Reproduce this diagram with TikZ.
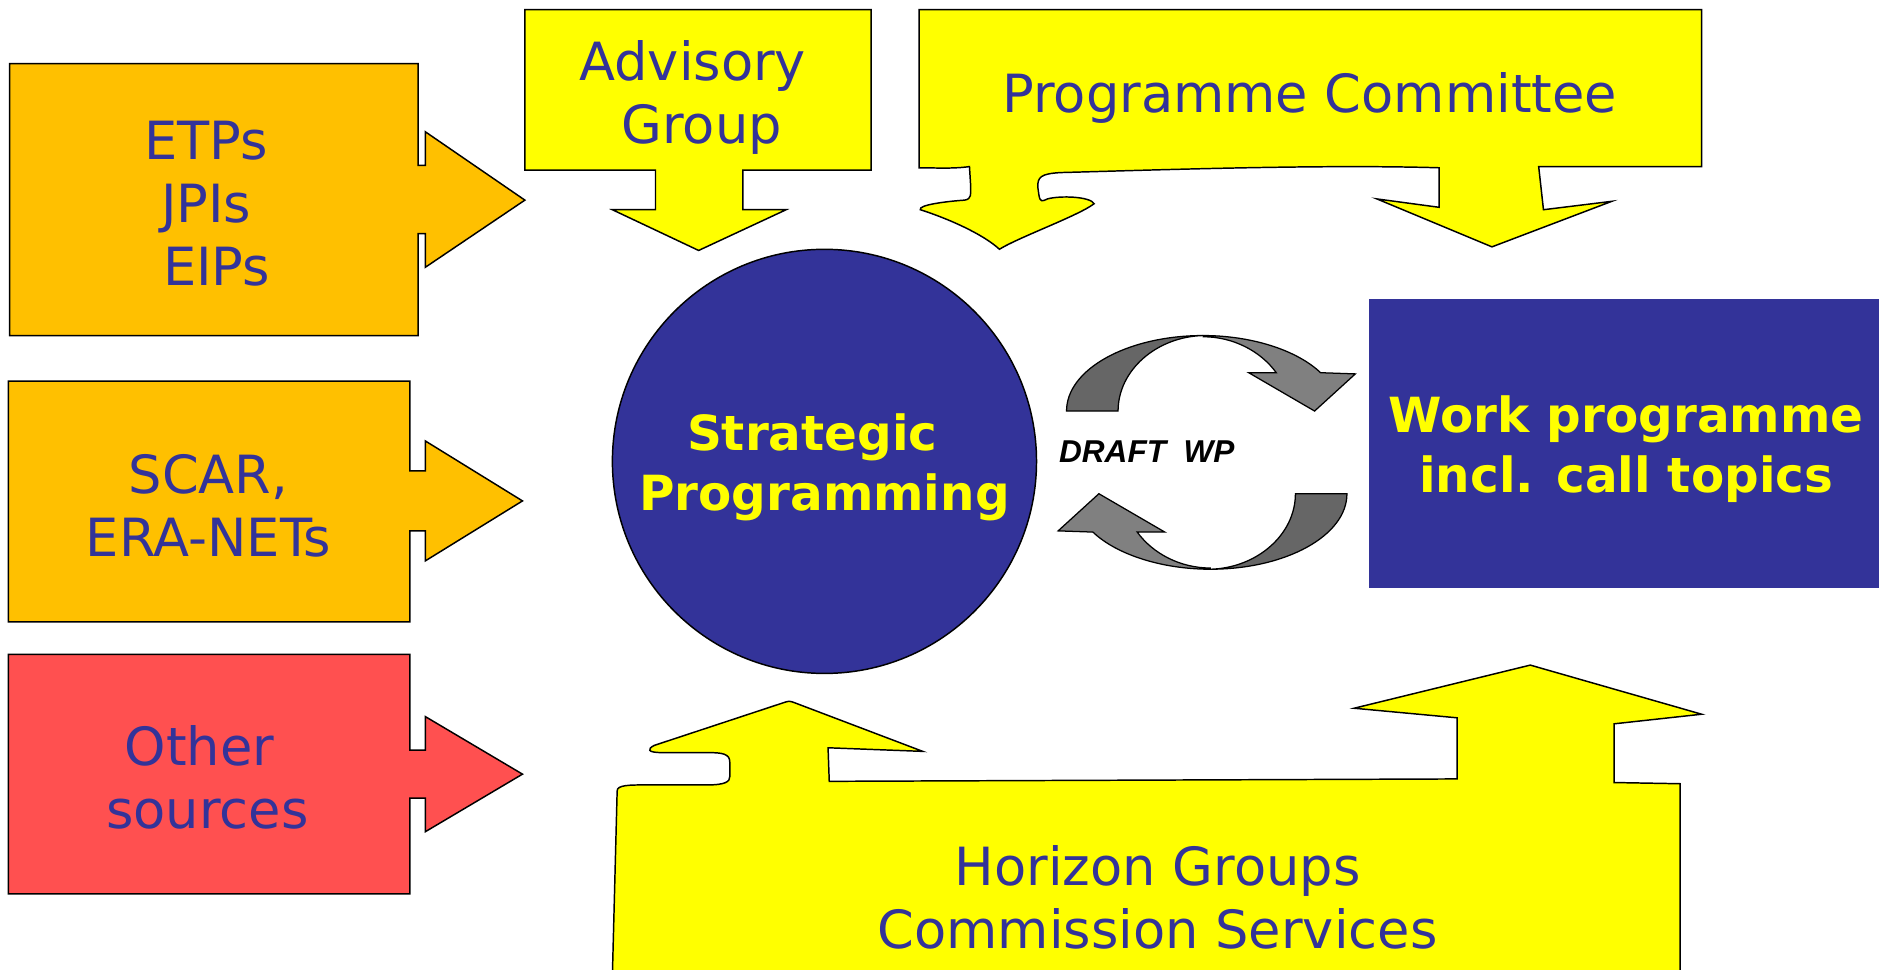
\documentclass[tikz,border=0pt]{standalone}
\usepackage{fontspec}
\setmainfont{DejaVu Sans}
\newfontfamily\draftfont{Liberation Sans}
\usetikzlibrary{calc}
\definecolor{navy}{HTML}{333399}
\definecolor{amber}{HTML}{FFC000}
\definecolor{salmon}{HTML}{FF5050}
\definecolor{lemon}{HTML}{FFFF00}
\definecolor{darkgrey}{HTML}{666666}
\definecolor{midgrey}{HTML}{808080}

\begin{document}
\begin{tikzpicture}[
    x=0.02cm, y=-0.02cm,
    outline/.style = { draw,line width=0.7pt },
    txt/.style     = { text=navy,align=center,font=\fontsize{25}{30}\selectfont },
    boldtxt/.style = { text=lemon,align=center,font=\fontsize{23}{28.5}\selectfont\bfseries },
    swirl/.style   = { draw,line width=0.6pt }
    ]
    \useasboundingbox (0,0) rectangle (1568,809);
    % Definitions
    \coordinate (etp)  at ( 172,170);
    \coordinate (scar) at ( 174,422);
    \coordinate (oth)  at ( 173,649);
    \coordinate (adv)  at ( 578, 81);
    \coordinate (com)  at (1093, 82);
    \coordinate (str)  at ( 688,385);
    \coordinate (work) at (1357,370);
    \coordinate (dft)  at ( 957,377);
    \coordinate (hor)  at ( 966,749);
    % Shapes
    \draw[outline,fill=amber]  (8,53) -- (349,53) -- (349,138) -- (355,138) -- (355,110) -- (438,167)
        -- (355,223) -- (355,195) -- (349,195) -- (349,280) -- (8,280) -- cycle;
    \draw[outline,fill=amber]  (7,318) -- (342,318) -- (342,393) -- (355,393) -- (355,368) -- (436,418)
        -- (355,468) -- (355,443) -- (342,443) -- (342,519) -- (7,519) -- cycle;
    \draw[outline,fill=salmon] (7,546) -- (342,546) -- (342,626) -- (355,626) -- (355,598) -- (436,646)
        -- (355,694) -- (355,666) -- (342,666) -- (342,746) -- (7,746) -- cycle;
    \draw[outline,fill=lemon]  (438,8) -- (727,8) -- (727,142) -- (620,142) -- (620,175) -- (656,175)
        -- (583,209) -- (511,175) -- (547,175) -- (547,142) -- (438,142) -- cycle;
    \draw[outline,fill=lemon]  (767,8) -- (1420,8) -- (1420,139) -- (1284,139) -- (1288,175) -- (1345,168)
        -- (1245,206) -- (1149,166) -- (1201,173) -- (1201,140)
        .. controls (1100,137) and (960,142) .. (885,144)
        .. controls (868,145) and (866,148) .. (866,156)
        -- (867,163) .. controls (868,169) and (870,168) .. (874,166)
        .. controls (885,163) and (910,164) .. (913,170)
        .. controls (900,180) and (850,198) .. (834,208)
        .. controls (820,195) and (790,182) .. (768,175)
        .. controls (766,171) and (790,168) .. (805,167)
        .. controls (811,166) and (810,162) .. (810,155)
        -- (809,139) .. controls (795,141) and (780,140) .. (767,140) -- cycle;
    \draw[outline,fill=lemon]  (511,815) -- (515,660)
        .. controls (515,655) and (525,655) .. (540,655)
        -- (590,655) .. controls (606,655) and (609,652) .. (609,648)
        -- (609,636) .. controls (609,629) and (603,628) .. (590,628)
        -- (552,628) .. controls (540,628) and (540,625) .. (546,622)
        -- (655,586) .. controls (658,585) and (659,585) .. (662,586)
        -- (770,627) -- (691,624) -- (692,652) -- (1216,650) -- (1216,599) -- (1130,591) -- (1277,555)
        -- (1420,596) -- (1347,604) -- (1347,653) -- (1402,654) -- (1402,815) -- cycle;
    % Swirls
    \draw[swirl,fill=darkgrey] (890,343) .. controls (890,308) and (941,280) .. (1004,280)
        .. controls (965,281) and (933,309) .. (933,343) -- cycle;
    \draw[swirl,fill=midgrey]  (1004,280) .. controls (1044,280) and (1082,292) .. (1102,311)
        -- (1131,312) -- (1097,343) -- (1042,311) -- (1065,311)
        .. controls (1052,293) and (1029,281) .. (1004,281) -- cycle;
    \draw[swirl,fill=darkgrey] (1124,412) .. controls (1124,447) and (1073,475) .. (1010,475)
        .. controls (1049,474) and (1081,446) .. (1081,412) -- cycle;
    \draw[swirl,fill=midgrey]  (1010,475) .. controls (970,475) and (932,463) .. (912,444)
        -- (883,443) -- (917,412) -- (972,444) -- (949,444)
        .. controls (962,462) and (985,474) .. (1010,474) -- cycle;
    % Nodes
    \node(ETP)  at (etp)  [txt]  {ETPs\\JPIs\\\hspace*{0.4em}EIPs};
    \node(SCR)  at (scar) [txt]  {SCAR,\\ERA-NETs};
    \node(OTH)  at (oth)  [txt]  {Other\hspace*{0.3em}\\sources};
    \node(ADV)  at (adv)  [txt]  {Advisory\\\hspace*{0.3cm}Group};
    \node(COM)  at (com)  [txt]  {Programme Committee};
    \node(HOR)  at (hor)  [txt]  {Horizon Groups\\Commission Services};
    \node(STR)  at (str)  [circle,draw,line width=0.7pt,fill=navy,minimum size=7.08cm,inner sep=0pt] {};
    \node(STRt) at ($(STR)+(0,5)$) [boldtxt] {Strategic\hspace*{0.5em}\\Programming};
    \node(WRK)  at (work) [fill=navy,minimum width=8.6cm,minimum height=4.82cm] {};
    \node(WRKt) at ($(WRK)+(0,5)$) [boldtxt] {Work programme\\incl. call topics};
    \node(DFT)  at (dft)  [font=\draftfont\fontsize{15}{18}\selectfont\bfseries\itshape] {DRAFT\ \ WP};
\end{tikzpicture}
\end{document}
